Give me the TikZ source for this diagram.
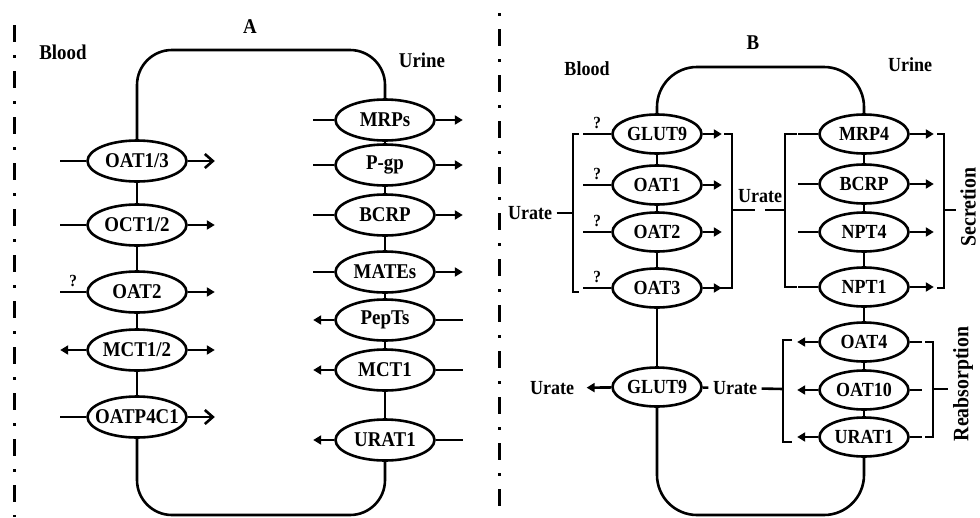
\documentclass[tikz,border=0pt]{standalone}
\usepackage{fontspec}
\setmainfont{Liberation Serif}[FakeStretch=0.9]
\usetikzlibrary{arrows.meta,shapes.geometric}

\begin{document}
\begin{tikzpicture}[x=1pt,y=-1pt,line width=2.6pt,font=\bfseries\fontsize{21}{23}\selectfont,
  tr/.style={ellipse,draw,inner xsep=-8pt,inner ysep=0pt,minimum width=99,minimum height=41},
  trb/.style={tr,minimum width=89,minimum height=39,font=\bfseries\fontsize{20}{22}\selectfont},
  lbl/.style={font=\bfseries\fontsize{20}{22}\selectfont},
  qm/.style={font=\bfseries\fontsize{17}{17}\selectfont},
  arr/.style={-{Triangle[length=8pt,width=9pt]}},
  barb/.style={-{Straight Barb[length=8pt,width=14pt]}},
  sep/.style={line width=3pt,dash pattern=on 17pt off 13pt on 3pt off 13pt},
  side/.style={rotate=90,font=\bfseries\fontsize{22}{24}\selectfont}]
\useasboundingbox (0,0) rectangle (980,517);
\draw[sep] (14,25) -- (14,517);
\draw[sep,dash phase=30pt] (499,13) -- (499,517);

\node (tA) at (250,27) {A};
\node (bloodA) at (63,52) {Blood};
\node (urineA) at (422,60) {Urine};
\foreach \n/\y/\t/\l/\r in {a1/161/{OAT1/3}/-/barb,a2/225/{OCT1/2}/-/arr,a3/292/OAT2/-/arr,
  a4/350/{MCT1/2}/arr/arr,a5/417/OATP4C1/-/barb}{
  \node[tr] (\n) at (137,\y) {\t};
  \draw[\l] (\n.west) -- ++(-26,0);
  \draw[\r] (\n.east) -- ++(27,0);
}
\draw (a3.west) ++(-13,0) node[above=1pt,qm] {?};
\foreach \n/\y/\t/\l/\r in {r1/120/MRPs/-/arr,r2/165/P-gp/-/arr,r3/215/BCRP/-/arr,r4/272/MATEs/-/arr,
  r5/320/PepTs/arr/-,r6/370/MCT1/arr/-,r7/440/URAT1/arr/-}{
  \node[tr] (\n) at (385,\y) {\t};
  \draw[\l] (\n.west) -- ++(-21,0);
  \draw[\r] (\n.east) -- ++(27,0);
}
\foreach \p/\q in {a1/a2,a2/a3,a3/a4,a4/a5,r1/r2,r2/r3,r3/r4,r4/r5,r5/r6,r6/r7}
  \draw (\p.south) -- (\q.north);
\draw[rounded corners=35] (a1.north) |- (260,50) -| (r1.north);
\draw[rounded corners=35] (a5.south) |- (260,515) -| (r7.south);

\node (tB) at (753,43) {B};
\node[lbl] (bloodB) at (587,69) {Blood};
\node[lbl] (urineB) at (910,65) {Urine};
\foreach \n/\y/\t in {b1/134/GLUT9,b2/185/OAT1,b3/232/OAT2,b4/288/OAT3}{
  \node[trb] (\n) at (657,\y) {\t};
  \draw (\n.west) -- ++(-28,0) node[pos=.5,above=1pt,qm] {?};
  \draw[arr] (\n.east) -- ++(19,0);
}
\node[trb] (b5) at (657,387) {GLUT9};
\foreach \n/\y/\t in {c1/134/MRP4,c2/184/BCRP,c3/232/NPT4,c4/287/NPT1}{
  \node[trb] (\n) at (864,\y) {\t};
  \draw (\n.west) -- ++(-20,0);
  \draw[arr] (\n.east) -- ++(24,0);
}
\foreach \n/\y/\t in {c5/342/OAT4,c6/390/OAT10,c7/437/URAT1}{
  \node[trb] (\n) at (864,\y) {\t};
  \draw[arr] (\n.west) -- ++(-21,0);
  \draw (\n.east) -- ++(12,0);
}
\foreach \p/\q in {b1/b2,b2/b3,b3/b4,b4/b5,c1/c2,c2/c3,c3/c4,c4/c5,c5/c6,c6/c7}
  \draw (\p.south) -- (\q.north);
\draw[rounded corners=40] (b1.north) |- (760,67) -| (c1.north);
\draw[rounded corners=40] (b5.south) |- (760,515) -| (c7.south);

\node[lbl] (uIn) at (530,213) {Urate};
\coordinate (k1) at (573,213);
\draw (579,134) -| (573,292) -- (579,292);
\draw (uIn) -- (k1);
\node[lbl] (uMid) at (760,196) {Urate};
\coordinate (k2) at (732,210);
\coordinate (k3) at (785,210);
\draw (724,134) -| (732,288) -- (720,288);
\draw (797,134) -| (785,287) -- (797,287);
\draw (k2) -- ++(23,0);
\draw (k3) -- ++(-20,0);
\draw (937,134) -| (944,288) -- (937,288);
\coordinate (k4) at (944,210);
\node[side] (secr) at (968,207) {Secretion};
\draw (k4) -- (secr.north |- k4);

\node[lbl] (uOut) at (552,388) {Urate};
\node[lbl] (uRe) at (735,388) {Urate};
\draw[arr,shorten >=8pt] (b5) -- (uOut);
\draw (b5) -- (uRe);
\coordinate (k5) at (783,389);
\draw (792,340) -| (783,442) -- (792,442);
\draw (uRe) -- (k5);
\draw (925,342) -| (933,437) -- (925,437);
\coordinate (k6) at (933,389);
\node[side] (reab) at (963,384) {Reabsorption};
\draw (k6) -- (reab.north |- k6);
\end{tikzpicture}
\end{document}
